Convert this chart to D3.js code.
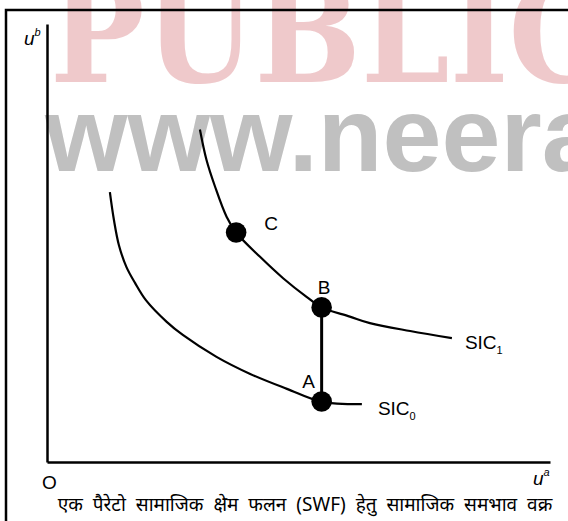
<!DOCTYPE html>
<html>
<head>
<meta charset="utf-8">
<script src="https://cdn.jsdelivr.net/npm/d3@7/dist/d3.min.js"></script>
<style>
  body { margin: 0; background: #fff; }
  svg { display: block; }
</style>
</head>
<body>
<div id="chart"></div>
<script>

// utility units (0..100 on both axes)
const sic0Points = [
    [12.5, 61.6], [13.3, 55.3], [14.3, 49.5], [15.8, 44.5], [17.5, 40.9],
    [19.7, 36.9], [23.8, 32.0], [27.0, 29.0], [33.7, 24.0], [40.4, 20.1],
    [47.7, 16.7], [54.5, 13.8], [62.6, 13.2]
];
const sic1Points = [
    [30.4, 75.9], [31.7, 69.0], [33.4, 62.9], [35.7, 56.0], [37.6, 52.4],
    [42.3, 46.9], [47.0, 41.9], [51.6, 37.7], [54.6, 35.3], [60.2, 33.2],
    [64.2, 31.7], [72.2, 29.9], [80.5, 28.3]
];
const pointNames = ['A', 'B', 'C'];
const pointValues = [[54.6, 13.8], [54.6, 35.3], [37.6, 52.4]];
const curveNames = ['SIC', 'SIC'];
const curveSubs = ['0', '1'];
const caption = 'एक पैरेटो सामाजिक क्षेम फलन (SWF) हेतु सामाजिक समभाव वक्र';

let outerWidth = 568;
let outerHeight = 521;

let svg = d3.select('#chart').append('svg')
    .attr('width', outerWidth)
    .attr('height', outerHeight);

// watermark behind everything
svg.append('text')
    .attr('x', 50)
    .attr('y', 82)
    .style('font-family', '"DejaVu Serif Condensed", "DejaVu Serif"')
    .style('font-stretch', 'condensed')
    .style('font-weight', 'bold')
    .style('font-size', '140px')
    .attr('fill', '#efc9cb')
    .text('PUBLIC');

svg.append('text')
    .attr('x', 45)
    .attr('y', 171)
    .style('font-family', '"Liberation Sans"')
    .style('font-weight', 'bold')
    .style('font-size', '106px')
    .attr('fill', '#c0c0c0')
    .text('www.neera');

// frame (top and left only)
svg.append('path')
    .attr('d', 'M6,521V10H568')
    .attr('fill', 'none')
    .attr('stroke', '#000')
    .attr('stroke-width', 2.5);

let x = d3.scaleLinear().domain([0, 100]).range([47, 550]);
let y = d3.scaleLinear().domain([0, 100]).range([462, 24]);

let xAxis = d3.axisBottom(x).ticks(0).tickSizeOuter(0);
let yAxis = d3.axisLeft(y).ticks(0).tickSizeOuter(0);

svg.append('g')
    .attr('transform', `translate(0, ${y(0)})`)
    .call(xAxis)
    .select('.domain').attr('stroke-width', 2.5);

svg.append('g')
    .attr('transform', `translate(${x(0)}, 0)`)
    .call(yAxis)
    .select('.domain').attr('stroke-width', 2.5);

let labelFont = '"Liberation Sans", Arial, sans-serif';

// axis labels
function axisLabel(px, py, main, sup) {
    let t = svg.append('text')
        .attr('x', px)
        .attr('y', py)
        .style('font-family', labelFont)
        .style('font-size', '19px')
        .style('font-style', 'italic');
    t.append('tspan').text(main);
    t.append('tspan')
        .attr('dy', -9)
        .style('font-size', '11px')
        .text(sup);
}
axisLabel(x(0) - 23, y(100) + 21, 'u', 'b');
axisLabel(x(100) - 17, y(0) + 23, 'u', 'a');

svg.append('text')
    .attr('x', x(0) - 5)
    .attr('y', y(0) + 27)
    .style('font-family', labelFont)
    .style('font-size', '19px')
    .text('O');

// the curves
let line = d3.line()
    .x(d => x(d[0]))
    .y(d => y(d[1]))
    .curve(d3.curveCatmullRom.alpha(0.5));

[sic0Points, sic1Points].forEach(function(pts) {
    svg.append('path')
        .datum(pts)
        .attr('d', line)
        .attr('fill', 'none')
        .attr('stroke', '#000')
        .attr('stroke-width', 2.2);
});

// curve names at the right end
let nameOffsets = [[16, 11], [13, 11]];
[sic0Points, sic1Points].forEach(function(pts, i) {
    let last = pts[pts.length - 1];
    let t = svg.append('text')
        .attr('x', x(last[0]) + nameOffsets[i][0])
        .attr('y', y(last[1]) + nameOffsets[i][1])
        .style('font-family', labelFont)
        .style('font-size', '19px')
        .text(curveNames[i]);
    t.append('tspan')
        .attr('dy', 5)
        .style('font-size', '11px')
        .text(curveSubs[i]);
});

// A to B vertical move
svg.append('line')
    .attr('x1', x(pointValues[0][0]))
    .attr('y1', y(pointValues[0][1]))
    .attr('x2', x(pointValues[1][0]))
    .attr('y2', y(pointValues[1][1]))
    .attr('stroke', '#000')
    .attr('stroke-width', 3);

svg.selectAll('circle.pt')
    .data(pointValues)
    .enter().append('circle')
    .attr('class', 'pt')
    .attr('cx', d => x(d[0]))
    .attr('cy', d => y(d[1]))
    .attr('r', 10.3)
    .attr('fill', '#000');

let ptOffsets = [[-13, -13.5], [2.5, -13], [35, -2]];
svg.selectAll('text.ptlabel')
    .data(pointValues)
    .enter().append('text')
    .attr('class', 'ptlabel')
    .attr('x', (d, i) => x(d[0]) + ptOffsets[i][0])
    .attr('y', (d, i) => y(d[1]) + ptOffsets[i][1])
    .attr('text-anchor', 'middle')
    .style('font-family', labelFont)
    .style('font-size', '19px')
    .text((d, i) => pointNames[i]);

// caption
svg.append('text')
    .attr('x', 305)
    .attr('y', 511)
    .attr('text-anchor', 'middle')
    .style('font-family', '"Noto Sans", "DejaVu Sans", sans-serif')
    .style('font-size', '19px')
    .style('word-spacing', '5px')
    .text(caption);

</script>
</body>
</html>
